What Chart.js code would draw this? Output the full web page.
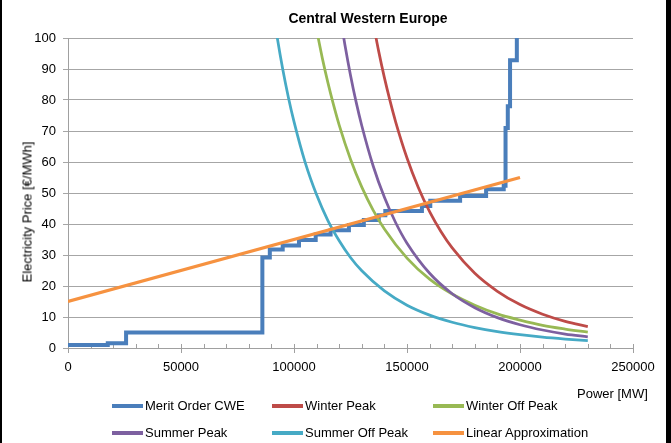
<!DOCTYPE html>
<html>
<head>
<meta charset="utf-8">
<script src="https://cdn.jsdelivr.net/npm/chart.js@4.4.1/dist/chart.umd.min.js"></script>
<style>
  html, body { margin: 0; padding: 0; background: #fff; }
  #wrap { position: relative; width: 671px; height: 443px; overflow: hidden;
          font-family: "Liberation Sans", Arial, sans-serif; color: #000; }
  #chart { position: absolute; left: 0; top: 0; }
  .txt { position: absolute; white-space: nowrap; font-size: 13px; line-height: 15px; }
  #title { left: 268px; width: 200px; top: 10px; text-align: center; font-weight: bold; font-size: 14px; line-height: 16px; }
  #ytitle { left: 27px; top: 212px; transform: translate(-50%, -50%) rotate(-90deg); }
  #xtitle { left: 577px; top: 386px; }
  .leg { position: absolute; white-space: nowrap; font-size: 13px; line-height: 15px; }
  .leg i { display: inline-block; width: 31px; height: 4px; vertical-align: middle; margin-right: 2px; position: relative; top: -1px; }
  .edge { position: absolute; top: 0; height: 443px; background: #000; }
</style>
</head>
<body>
<div id="wrap">
  <canvas id="chart" width="671" height="443"></canvas>
  <div id="title" class="txt">Central Western Europe</div>
  <div id="ytitle" class="txt">Electricity Price [€/MWh]</div>
  <div id="xtitle" class="txt">Power [MW]</div>
  <div id="legend"></div>
  <div class="edge" style="left:0;width:2px"></div>
  <div class="edge" style="left:666px;width:5px"></div>
</div>
<script>
// Merit order of the CWE region: power where each price step starts, and the step price
const meritPower = [0, 17600, 25700, 86000, 89300, 95000, 102200, 109600, 116200, 124300, 130900,
                    137500, 140400, 156600, 160300, 173500, 185000, 192800, 193600, 194600, 195600, 198600];
const meritPrice = [1.0, 1.5, 5.0, 29.2, 31.8, 33.1, 34.8, 36.6, 38.0, 39.7, 41.3,
                    42.8, 44.2, 45.8, 47.5, 49.0, 51.2, 52.3, 71.0, 78.0, 92.8, 110];

// Demand curves (price in €/MWh at the listed power in MW)
const winterPeakPower = [135000, 137500, 140000, 142500, 145000, 150000, 155000, 160000, 165000, 170000,
                         180000, 190000, 200000, 210000, 220000, 230000];
const winterPeakPrice = [105.0, 95.6, 87.2, 79.7, 72.9, 61.3, 51.8, 44.0, 37.6, 32.3,
                         24.1, 18.3, 14.0, 10.9, 8.6, 6.9];

const winterOffPower = [110000, 112500, 115000, 117500, 120000, 125000, 130000, 135000, 140000, 150000,
                        160000, 170000, 180000, 190000, 200000, 210000, 220000, 230000];
const winterOffPrice = [102.6, 93.6, 85.6, 78.4, 71.9, 60.9, 51.9, 44.5, 38.4, 29.0,
                        22.2, 17.4, 13.8, 11.0, 9.0, 7.3, 6.1, 5.1];

const summerPeakPower = [120000, 122500, 125000, 127500, 130000, 135000, 140000, 145000, 150000, 160000,
                         170000, 180000, 190000, 200000, 210000, 220000, 230000];
const summerPeakPrice = [109.0, 97.9, 88.0, 79.3, 71.7, 58.8, 48.6, 40.4, 33.8, 24.1,
                         17.5, 13.0, 9.8, 7.5, 5.8, 4.5, 3.6];

const summerOffPower = [90000, 92500, 95000, 97500, 100000, 105000, 110000, 115000, 120000, 125000,
                        130000, 140000, 150000, 160000, 170000, 180000, 190000, 200000, 210000, 220000, 230000];
const summerOffPrice = [112.4, 100.5, 90.0, 80.9, 73.0, 59.7, 49.4, 41.1, 34.6, 29.2,
                        24.9, 18.4, 13.8, 10.6, 8.3, 6.6, 5.3, 4.3, 3.5, 2.9, 2.4];

// Linear approximation of the merit order
const linearPower = [0, 200000];
const linearPrice = [15, 55];

// Axis ticks
const xMajorStep = 50000;
const xMinorStep = 10000;
const xMax = 250000;
const yStep = 10;
const yMax = 100;

const FONT = '"Liberation Sans", Arial, sans-serif';

const series = [
  { label: 'Merit Order CWE',      power: meritPower,      price: meritPrice,      color: '#4A7EBB', width: 4,    stepped: 'before', order: 5 },
  { label: 'Winter Peak',          power: winterPeakPower, price: winterPeakPrice, color: '#BE4B48', width: 2.75, order: 4 },
  { label: 'Winter Off Peak',      power: winterOffPower,  price: winterOffPrice,  color: '#98B954', width: 2.75, order: 3 },
  { label: 'Summer Peak',          power: summerPeakPower, price: summerPeakPrice, color: '#7D60A0', width: 2.75, order: 2 },
  { label: 'Summer Off Peak',      power: summerOffPower,  price: summerOffPrice,  color: '#46AAC5', width: 2.75, order: 1 },
  { label: 'Linear Approximation', power: linearPower,     price: linearPrice,     color: '#F69240', width: 3.25, order: 0 }
];

const datasets = series.map(s => ({
  label: s.label,
  data: s.power.map((p, i) => ({ x: p, y: s.price[i] })),
  borderColor: s.color,
  backgroundColor: s.color,
  borderWidth: s.width,
  pointRadius: 0,
  fill: false,
  stepped: s.stepped || false,
  cubicInterpolationMode: s.stepped ? 'default' : 'monotone',
  borderCapStyle: 'butt',
  borderJoinStyle: 'miter',
  order: s.order
}));

// Small tick marks along the power axis (every 10000 MW, longer at the labelled ones)
const minorTicks = {
  id: 'minorTicks',
  beforeDatasetsDraw(chart) {
    const xs = chart.scales.x;
    const yb = chart.chartArea.bottom;
    const ctx = chart.ctx;
    ctx.save();
    ctx.strokeStyle = '#a0a0a0';
    ctx.lineWidth = 1;
    ctx.beginPath();
    for (let v = 0; v <= xMax; v += xMinorStep) {
      const px = Math.round(xs.getPixelForValue(v)) + 0.5;
      const major = v % xMajorStep === 0;
      ctx.moveTo(px, yb - 4);
      ctx.lineTo(px, yb + (major ? 5 : 1));
    }
    ctx.stroke();
    ctx.restore();
  }
};

new Chart(document.getElementById('chart'), {
  type: 'line',
  data: { datasets },
  plugins: [minorTicks],
  options: {
    responsive: false,
    animation: false,
    devicePixelRatio: 1,
    layout: { padding: { left: 0, top: 38, right: 38, bottom: 0 } },
    plugins: { legend: { display: false }, title: { display: false }, tooltip: { enabled: false } },
    scales: {
      x: {
        type: 'linear', min: 0, max: xMax,
        ticks: { stepSize: xMajorStep, callback: v => String(v), color: '#000',
                 font: { family: FONT, size: 13 }, padding: 12, maxRotation: 0 },
        grid: { display: false, drawTicks: false },
        border: { display: true, color: '#a0a0a0', width: 1 },
        afterFit: s => { s.height = 95; }
      },
      y: {
        min: 0, max: yMax,
        ticks: { stepSize: yStep, color: '#000', font: { family: FONT, size: 13 }, padding: 7 },
        grid: { color: '#a6a6a6', lineWidth: 1, tickLength: 5, drawTicks: true },
        border: { display: true, color: '#a0a0a0', width: 1 },
        afterFit: s => { s.width = 68; }
      }
    }
  }
});

// Legend in three columns
const legendPos = [
  [112, 398], [272, 398], [433, 398],
  [112, 425], [272, 425], [433, 425]
];
const legend = document.getElementById('legend');
series.forEach((s, n) => {
  const d = document.createElement('div');
  d.className = 'leg';
  d.style.left = legendPos[n][0] + 'px';
  d.style.top = legendPos[n][1] + 'px';
  const sw = document.createElement('i');
  sw.style.background = s.color;
  d.appendChild(sw);
  d.appendChild(document.createTextNode(s.label));
  legend.appendChild(d);
});
</script>
</body>
</html>
